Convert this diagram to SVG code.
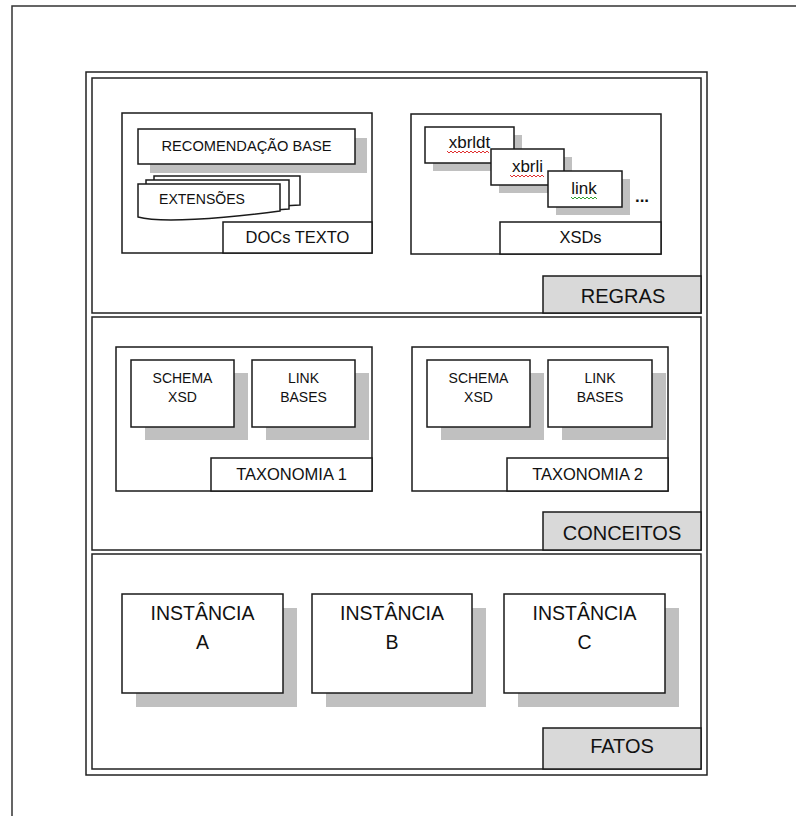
<svg xmlns="http://www.w3.org/2000/svg" width="796" height="816" viewBox="0 0 796 816">
<style>
text{font-family:"Liberation Sans",Arial,sans-serif;fill:#111;text-anchor:middle}
.frame{fill:none;stroke:#333;stroke-width:1.5}
.sec{fill:#fff;stroke:#222;stroke-width:1.5}
.box{fill:#fff;stroke:#1a1a1a;stroke-width:1.5}
.lab{fill:#d9d9d9;stroke:#1a1a1a;stroke-width:1.5}
.sh{fill:#c0c0c0}
.s14{font-size:14px}
.s16{font-size:16.5px}
.s17{font-size:17px}
.s20{font-size:20px}
.s19{font-size:19.5px}
.wr{fill:none;stroke:#e03030;stroke-width:1}
.wg{fill:none;stroke:#30a030;stroke-width:1}
</style>
<rect width="796" height="816" fill="#fff"/>
<path class="frame" d="M12,816 V6 H796"/>
<g id="frame">
<rect class="sec" x="86" y="72" width="621" height="703"/>
<rect class="sec" x="92" y="78" width="609" height="235"/>
<rect class="sec" x="92" y="317" width="609" height="233"/>
<rect class="sec" x="92" y="554" width="609" height="215"/>
</g>
<g id="docs-texto">
<rect class="box" x="122" y="113" width="250" height="140"/>
<rect class="box" x="223" y="222" width="149" height="31"/>
<text class="s16" x="297.5" y="243">DOCs TEXTO</text>
</g>
<g id="recomendacao-base">
<rect class="sh" x="150" y="138" width="217" height="35"/>
<rect class="box" x="138" y="129" width="217" height="35"/>
<text class="s14" x="246.5" y="151" textLength="170" lengthAdjust="spacingAndGlyphs">RECOMENDAÇÃO BASE</text>
</g>
<g id="extensoes">
<path class="box" d="M154,176 H300 V205 C280,206 260,208 240,210 L154,210 Z"/>
<path class="box" d="M146,180 H289 V209 C270,210 250,212 230,214 L146,214 Z"/>
<path class="box" d="M138,184 H280 V211 C220,219 160,223 138,217 Z"/>
<text class="s14" x="159" y="204" text-anchor="start" style="text-anchor:start" textLength="86" lengthAdjust="spacingAndGlyphs">EXTENSÕES</text>
</g>
<g id="xsds">
<rect class="box" x="411" y="114" width="250" height="140"/>
<rect class="box" x="500" y="222" width="161" height="32"/>
<text class="s16" x="580.5" y="243">XSDs</text>
</g>
<g id="xbrldt">
<rect class="sh" x="433" y="135" width="89" height="36"/>
<rect class="box" x="425" y="127" width="89" height="36"/>
<text class="s17" x="469.5" y="148">xbrldt</text>
<path class="wr" d="M447,151 l2,2 l2,-2 l2,2 l2,-2 l2,2 l2,-2 l2,2 l2,-2 l2,2 l2,-2 l2,2 l2,-2 l2,2 l2,-2 l2,2 l2,-2 l2,2 l2,-2 l2,2 l2,-2 l2,2"/>
</g>
<g id="xbrli">
<rect class="sh" x="499" y="157" width="73" height="36"/>
<rect class="box" x="491" y="149" width="73" height="36"/>
<text class="s17" x="527.5" y="172">xbrli</text>
<path class="wr" d="M510,175 l2,2 l2,-2 l2,2 l2,-2 l2,2 l2,-2 l2,2 l2,-2 l2,2 l2,-2 l2,2 l2,-2 l2,2 l2,-2 l2,2 l2,-2 l2,2"/>
</g>
<g id="link">
<rect class="sh" x="556" y="179" width="74" height="36"/>
<rect class="box" x="548" y="171" width="74" height="36"/>
<text class="s17" x="584" y="194">link</text>
<path class="wg" d="M571,197 l2,2 l2,-2 l2,2 l2,-2 l2,2 l2,-2 l2,2 l2,-2 l2,2 l2,-2 l2,2 l2,-2 l2,2"/>
</g>
<g id="ellipsis">
<text class="s17" x="642" y="202" style="font-weight:bold">...</text>
</g>
<g id="regras">
<rect class="lab" x="543" y="276" width="158" height="37"/>
<text class="s20" x="623" y="303">REGRAS</text>
</g>
<g id="taxonomia-1">
<rect class="box" x="116" y="347" width="256" height="144"/>
<rect class="box" x="211" y="458" width="161" height="33"/>
<text class="s16" x="291.5" y="480">TAXONOMIA 1</text>
</g>
<g id="schema-xsd-1">
<rect class="sh" x="145" y="373" width="103" height="67"/>
<rect class="box" x="131" y="360" width="103" height="67"/>
<text class="s14" x="182.5" y="383">SCHEMA</text>
<text class="s14" x="182.5" y="402">XSD</text>
</g>
<g id="link-bases-1">
<rect class="sh" x="266" y="373" width="103" height="67"/>
<rect class="box" x="252" y="360" width="103" height="67"/>
<text class="s14" x="303.5" y="383">LINK</text>
<text class="s14" x="303.5" y="402">BASES</text>
</g>
<g id="taxonomia-2">
<rect class="box" x="412" y="347" width="256" height="144"/>
<rect class="box" x="507" y="458" width="161" height="33"/>
<text class="s16" x="587.5" y="480">TAXONOMIA 2</text>
</g>
<g id="schema-xsd-2">
<rect class="sh" x="441" y="373" width="103" height="67"/>
<rect class="box" x="427" y="360" width="103" height="67"/>
<text class="s14" x="478.5" y="383">SCHEMA</text>
<text class="s14" x="478.5" y="402">XSD</text>
</g>
<g id="link-bases-2">
<rect class="sh" x="562" y="373" width="104" height="67"/>
<rect class="box" x="548" y="360" width="104" height="67"/>
<text class="s14" x="600" y="383">LINK</text>
<text class="s14" x="600" y="402">BASES</text>
</g>
<g id="conceitos">
<rect class="lab" x="543" y="512" width="158" height="38"/>
<text class="s20" x="622" y="540">CONCEITOS</text>
</g>
<g id="instancia-a">
<rect class="sh" x="136" y="608" width="161" height="99"/>
<rect class="box" x="122" y="594" width="161" height="99"/>
<text class="s19" x="202.5" y="620">INSTÂNCIA</text>
<text class="s19" x="202.5" y="649">A</text>
</g>
<g id="instancia-b">
<rect class="sh" x="326" y="608" width="160" height="99"/>
<rect class="box" x="312" y="594" width="160" height="99"/>
<text class="s19" x="392" y="620">INSTÂNCIA</text>
<text class="s19" x="392" y="649">B</text>
</g>
<g id="instancia-c">
<rect class="sh" x="518" y="608" width="161" height="99"/>
<rect class="box" x="504" y="594" width="161" height="99"/>
<text class="s19" x="584.5" y="620">INSTÂNCIA</text>
<text class="s19" x="584.5" y="649">C</text>
</g>
<g id="fatos">
<rect class="lab" x="543" y="728" width="158" height="41"/>
<text class="s20" x="622" y="753">FATOS</text>
</g>
<g id="connectors"/>
</svg>
